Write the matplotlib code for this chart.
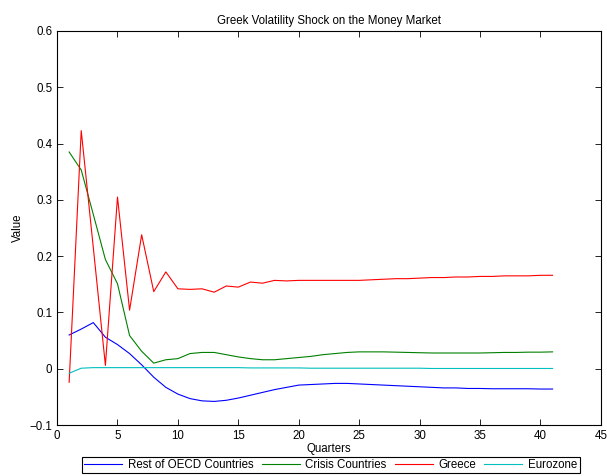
import matplotlib
matplotlib.use("Agg")
import matplotlib.pyplot as plt
import numpy as np

plt.rcParams['font.family'] = ['Liberation Sans', 'DejaVu Sans']

quarters = list(range(1, 42))

rest_of_oecd = [0.060, 0.0705, 0.082, 0.056, 0.043, 0.027, 0.007, -0.015, -0.033, -0.045,
                -0.053, -0.057, -0.058, -0.056, -0.052, -0.047, -0.042, -0.037, -0.033, -0.029,
                -0.028, -0.027, -0.026, -0.026, -0.027, -0.028, -0.029, -0.030, -0.031, -0.032,
                -0.033, -0.034, -0.034, -0.035, -0.035, -0.0355, -0.0355, -0.0355, -0.0355, -0.036,
                -0.036]
crisis_countries = [0.385, 0.353, 0.274, 0.194, 0.151, 0.059, 0.031, 0.010, 0.016, 0.018,
                    0.027, 0.029, 0.029, 0.025, 0.021, 0.018, 0.016, 0.016, 0.018, 0.020,
                    0.022, 0.025, 0.027, 0.029, 0.030, 0.030, 0.030, 0.0295, 0.029, 0.0285,
                    0.028, 0.028, 0.028, 0.028, 0.028, 0.0285, 0.029, 0.029, 0.0295, 0.0295,
                    0.030]
greece = [-0.024, 0.423, 0.215, 0.006, 0.305, 0.104, 0.238, 0.137, 0.172, 0.142,
          0.141, 0.142, 0.136, 0.147, 0.145, 0.154, 0.152, 0.157, 0.156, 0.157,
          0.157, 0.157, 0.157, 0.157, 0.157, 0.158, 0.159, 0.160, 0.160, 0.161,
          0.162, 0.162, 0.163, 0.163, 0.164, 0.164, 0.165, 0.165, 0.165, 0.166,
          0.166]
eurozone = [-0.008, 0.001, 0.002, 0.002, 0.002, 0.002, 0.002, 0.002, 0.002, 0.002,
            0.002, 0.002, 0.002, 0.002, 0.002, 0.0015, 0.0015, 0.0015, 0.0015, 0.0015,
            0.001, 0.001, 0.001, 0.001, 0.001, 0.001, 0.001, 0.001, 0.001, 0.001,
            0.0005, 0.0005, 0.0005, 0.0005, 0.0005, 0.0005, 0.0005, 0.0005, 0.0005, 0.0005,
            0.0005]

series_names = ["Rest of OECD Countries", "Crisis Countries", "Greece", "Eurozone"]
series_colors = ["#0000ff", "#008000", "#ff0000", "#00bfbf"]

fs = 8.3

fig = plt.figure(figsize=(6.07, 4.76), dpi=100)
ax = fig.add_axes([0.094, 0.107, 0.896, 0.828])

for vals, name, col in zip([rest_of_oecd, crisis_countries, greece, eurozone],
                           series_names, series_colors):
    ax.plot(quarters, vals, color=col, lw=0.8, label=name)

ax.set_xlim(0, 45)
ax.set_ylim(-0.1, 0.6)
ax.set_xticks(np.arange(0, 46, 5))
ax.set_yticks(np.arange(-0.1, 0.61, 0.1))
ax.set_yticklabels(["\u22120.1", "0", "0.1", "0.2", "0.3", "0.4", "0.5", "0.6"])
ax.tick_params(direction='in', top=True, right=True, labelsize=fs, length=4, width=0.6)
for sp in ax.spines.values():
    sp.set_linewidth(0.8)

ax.set_title("Greek Volatility Shock on the Money Market", fontsize=fs, pad=5)
ax.set_xlabel("Quarters", fontsize=fs, labelpad=1)
ax.set_ylabel("Value", fontsize=fs, labelpad=4)

leg = fig.legend(loc='center', bbox_to_anchor=(0.545, 0.023), ncol=4, fontsize=fs,
                 frameon=True, fancybox=False, edgecolor='black', framealpha=1,
                 handlelength=3.3, columnspacing=0.7, handletextpad=0.5,
                 borderpad=0.2, borderaxespad=0)
leg.get_frame().set_linewidth(0.8)

fig.savefig("out.png", dpi=100)
